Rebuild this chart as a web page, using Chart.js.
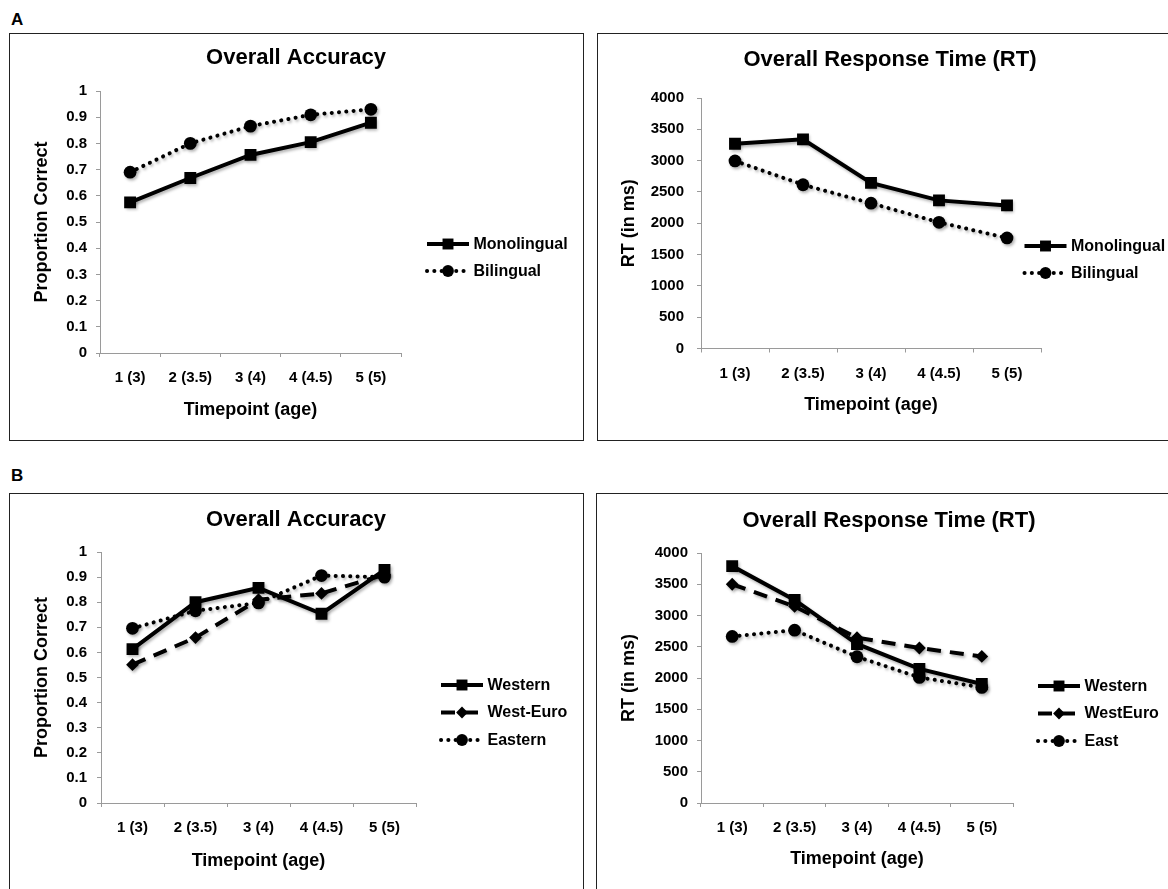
<!DOCTYPE html>
<html>
<head>
<meta charset="utf-8">
<script src="https://cdn.jsdelivr.net/npm/chart.js@4/dist/chart.umd.min.js"></script>
<style>
  html, body { margin: 0; padding: 0; background: #fff; }
  body { width: 1168px; height: 889px; overflow: hidden; position: relative; font-family: "Liberation Sans", Arial, sans-serif; }
  .panel-box { position: absolute; border: 1.5px solid #222; box-sizing: border-box; pointer-events: none; }
  canvas { position: absolute; }
  .letter { position: absolute; font-weight: bold; font-size: 17px; color: #000; line-height: 1; }
</style>
</head>
<body>
<div class="letter" style="left:11px; top:11px;">A</div>
<div class="letter" style="left:11px; top:467px;">B</div>

<canvas id="cA1" width="574" height="407" style="left:9px; top:33px;"></canvas>
<canvas id="cA2" width="586" height="407" style="left:597px; top:33px;"></canvas>
<canvas id="cB1" width="574" height="406" style="left:9px; top:493px;"></canvas>
<canvas id="cB2" width="586" height="406" style="left:596px; top:493px;"></canvas>

<div class="panel-box" style="left:9px; top:33px; width:575px; height:408px;"></div>
<div class="panel-box" style="left:597px; top:33px; width:600px; height:408px;"></div>
<div class="panel-box" style="left:9px; top:493px; width:575px; height:420px;"></div>
<div class="panel-box" style="left:596px; top:493px; width:600px; height:420px;"></div>

<script>
// ---------------- DATA ----------------
const categories = ['1 (3)', '2 (3.5)', '3 (4)', '4 (4.5)', '5 (5)'];
const accTickLabels = ['0', '0.1', '0.2', '0.3', '0.4', '0.5', '0.6', '0.7', '0.8', '0.9', '1'];
const rtTickLabels = ['0', '500', '1000', '1500', '2000', '2500', '3000', '3500', '4000'];

// Panel A
const monolingualAcc = [0.575, 0.668, 0.756, 0.805, 0.879];
const bilingualAcc   = [0.690, 0.800, 0.866, 0.909, 0.930];
const monolingualRT  = [3270, 3340, 2645, 2365, 2285];
const bilingualRT    = [2995, 2615, 2320, 2015, 1765];

// Panel B
const westernAcc  = [0.613, 0.800, 0.857, 0.754, 0.929];
const westEuroAcc = [0.551, 0.659, 0.810, 0.835, 0.910];
const easternAcc  = [0.696, 0.766, 0.797, 0.906, 0.900];
const westernRT   = [3790, 3250, 2545, 2145, 1905];
const westEuroRT  = [3500, 3145, 2645, 2480, 2345];
const eastRT      = [2665, 2765, 2340, 2010, 1850];

// ---------------- STYLES ----------------
const FONT = '"Liberation Sans", Arial, Helvetica, sans-serif';
const AXIS_GRAY = '#9a9a9a';

function solidSeries(label, data) {
  return { label, data, borderColor: '#000', backgroundColor: '#000', borderWidth: 4,
    borderDash: [], borderCapStyle: 'butt', pointStyle: 'rect', pointRadius: 8.4,
    pointBackgroundColor: '#000', pointBorderColor: '#000', pointBorderWidth: 0, tension: 0 };
}
function dottedSeries(label, data) {
  return { label, data, borderColor: '#000', backgroundColor: '#000', borderWidth: 4,
    borderDash: [0.1, 7.2], borderCapStyle: 'round', pointStyle: 'circle', pointRadius: 6.4,
    pointBackgroundColor: '#000', pointBorderColor: '#000', pointBorderWidth: 0, tension: 0 };
}
function dashedSeries(label, data) {
  return { label, data, borderColor: '#000', backgroundColor: '#000', borderWidth: 4,
    borderDash: [14, 9], borderCapStyle: 'butt', pointStyle: 'rectRot', pointRadius: 6.4,
    pointBackgroundColor: '#000', pointBorderColor: '#000', pointBorderWidth: 0, tension: 0 };
}

// soft drop shadow under the series, as in the reference
const shadowPlugin = {
  id: 'softShadow',
  beforeDatasetsDraw(chart) {
    const ctx = chart.ctx;
    ctx.save();
    ctx.shadowColor = 'rgba(0,0,0,0.30)';
    ctx.shadowBlur = 3;
    ctx.shadowOffsetX = 1.5;
    ctx.shadowOffsetY = 2;
  },
  afterDatasetsDraw(chart) { chart.ctx.restore(); }
};

// legend: line sample with marker in the middle, then the label
const lineLegendPlugin = {
  id: 'lineLegend',
  afterDraw(chart, args, opts) {
    const ctx = chart.ctx;
    const area = chart.chartArea;
    const lineLen = opts.lineLen || 42;
    chart.data.datasets.forEach((ds, i) => {
      const x0 = area.right + opts.x;
      const y = area.top + opts.y + i * opts.gap;
      ctx.save();
      ctx.strokeStyle = ds.borderColor;
      ctx.lineWidth = ds.borderWidth;
      ctx.lineCap = ds.borderCapStyle || 'butt';
      ctx.setLineDash(ds.borderDash || []);
      ctx.beginPath();
      ctx.moveTo(x0, y);
      ctx.lineTo(x0 + lineLen, y);
      ctx.stroke();
      ctx.setLineDash([]);
      ctx.fillStyle = ds.pointBackgroundColor;
      ctx.strokeStyle = ds.pointBorderColor;
      Chart.helpers.drawPoint(ctx, { pointStyle: ds.pointStyle, radius: ds.pointRadius * 0.92, rotation: 0, borderWidth: 0 },
        x0 + lineLen / 2, y);
      ctx.fillStyle = '#000';
      ctx.font = 'bold 16px ' + FONT;
      ctx.textBaseline = 'middle';
      ctx.textAlign = 'left';
      ctx.fillText(ds.label, x0 + lineLen + 4.5, y + 0.5);
      ctx.restore();
    });
  }
};

function makeChart(id, cfg) {
  const g = cfg.geom;
  return new Chart(document.getElementById(id), {
    type: 'line',
    data: { labels: categories, datasets: cfg.datasets },
    options: {
      responsive: false,
      animation: false,
      devicePixelRatio: 1,
      layout: { padding: 0 },
      plugins: {
        legend: { display: false },
        tooltip: { enabled: false },
        title: {
          display: true, text: cfg.title, color: '#000',
          font: { family: FONT, size: 22, weight: 'bold', lineHeight: 1.2 },
          padding: { top: g.titleTop, bottom: g.titleBottom }
        },
        lineLegend: g.legend
      },
      scales: {
        x: {
          type: 'category',
          offset: true,
          grid: { offset: true, drawOnChartArea: false, drawTicks: true, tickLength: 4, color: AXIS_GRAY, lineWidth: 1 },
          border: { display: true, color: AXIS_GRAY, width: 1 },
          ticks: { color: '#000', padding: g.xTickPad, maxRotation: 0, autoSkip: false,
                   font: { family: FONT, size: 15, weight: 'bold', lineHeight: 1.2 } },
          title: { display: true, text: 'Timepoint (age)', color: '#000',
                   font: { family: FONT, size: 18, weight: 'bold', lineHeight: 1.2 },
                   padding: { top: 0, bottom: g.xTitlePad } },
          afterFit(s) { s.height = g.xHeight; }
        },
        y: {
          type: 'linear', position: 'left',
          min: cfg.yMin, max: cfg.yMax,
          grid: { drawOnChartArea: false, drawTicks: true, tickLength: 4, color: AXIS_GRAY, lineWidth: 1 },
          border: { display: true, color: AXIS_GRAY, width: 1 },
          ticks: { stepSize: cfg.yStep, color: '#000', padding: g.yTickPad,
                   font: { family: FONT, size: 15, weight: 'bold', lineHeight: 1.2 },
                   callback: (v, i) => cfg.yTickLabels[i] },
          title: { display: true, text: cfg.yTitle, color: '#000',
                   font: { family: FONT, size: 18, weight: 'bold', lineHeight: 1.2 },
                   padding: { top: g.yTitlePad, bottom: 0 } },
          afterFit(s) { s.width = g.yWidth; }
        },
        legendSpace: {
          type: 'linear', position: 'right', display: true,
          grid: { display: false, drawTicks: false },
          border: { display: false },
          ticks: { display: false },
          title: { display: false },
          afterFit(s) { s.width = g.rightWidth; }
        }
      }
    },
    plugins: [shadowPlugin, lineLegendPlugin]
  });
}

makeChart('cA1', {
  title: 'Overall Accuracy', yTitle: 'Proportion Correct',
  yMin: 0, yMax: 1, yStep: 0.1, yTickLabels: accTickLabels,
  datasets: [solidSeries('Monolingual', monolingualAcc), dottedSeries('Bilingual', bilingualAcc)],
  geom: { yWidth: 91, rightWidth: 182, xHeight: 87, titleTop: 11.8, titleBottom: 19.8,
          yTitlePad: 22.2, yTickPad: 9, xTickPad: 12, xTitlePad: 19.2,
          legend: { x: 26, y: 153, gap: 27, lineLen: 42 } }
});

makeChart('cA2', {
  title: 'Overall Response Time (RT)', yTitle: 'RT (in ms)',
  yMin: 0, yMax: 4000, yStep: 500, yTickLabels: rtTickLabels,
  datasets: [solidSeries('Monolingual', monolingualRT), dottedSeries('Bilingual', bilingualRT)],
  geom: { yWidth: 104, rightWidth: 142, xHeight: 91.5, titleTop: 13.5, titleBottom: 25.1,
          yTitlePad: 21.2, yTickPad: 13, xTickPad: 12.5, xTitlePad: 24.2,
          legend: { x: -16.5, y: 148, gap: 27, lineLen: 42 } }
});

makeChart('cB1', {
  title: 'Overall Accuracy', yTitle: 'Proportion Correct',
  yMin: 0, yMax: 1, yStep: 0.1, yTickLabels: accTickLabels,
  datasets: [solidSeries('Western', westernAcc), dashedSeries('West-Euro', westEuroAcc), dottedSeries('Eastern', easternAcc)],
  geom: { yWidth: 92, rightWidth: 167, xHeight: 96, titleTop: 13.8, titleBottom: 18.8,
          yTitlePad: 22.2, yTickPad: 10, xTickPad: 12, xTitlePad: 27.2,
          legend: { x: 25, y: 133, gap: 27.5, lineLen: 42 } }
});

makeChart('cB2', {
  title: 'Overall Response Time (RT)', yTitle: 'RT (in ms)',
  yMin: 0, yMax: 4000, yStep: 500, yTickLabels: rtTickLabels,
  datasets: [solidSeries('Western', westernRT), dashedSeries('WestEuro', westEuroRT), dottedSeries('East', eastRT)],
  geom: { yWidth: 105, rightWidth: 169, xHeight: 96, titleTop: 14.3, titleBottom: 19.3,
          yTitlePad: 22.2, yTickPad: 9, xTickPad: 12, xTitlePad: 29.2,
          legend: { x: 25, y: 133, gap: 27.5, lineLen: 42 } }
});
</script>
</body>
</html>
